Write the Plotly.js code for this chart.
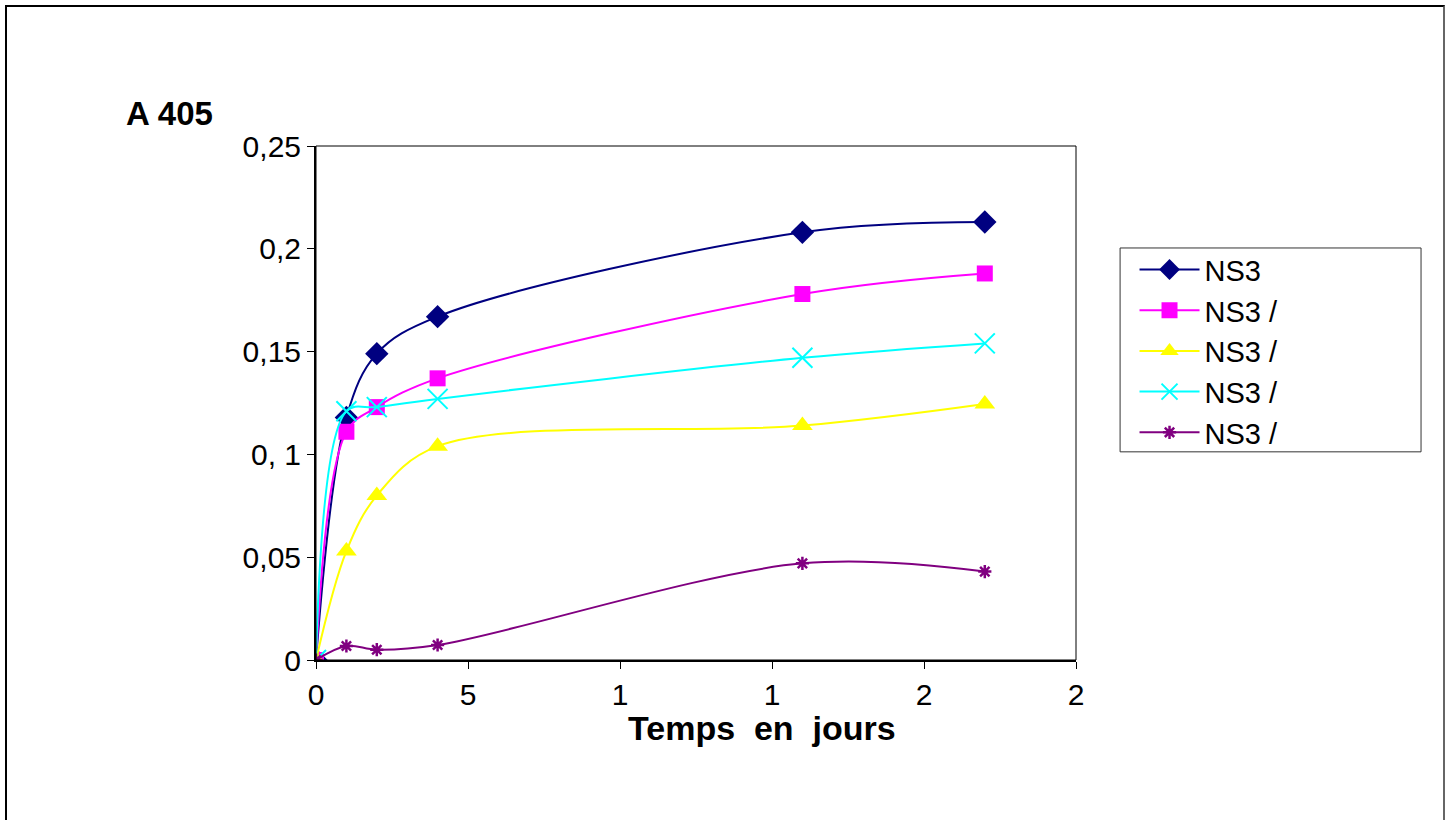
<!DOCTYPE html>
<html>
<head>
<meta charset="utf-8">
<script src="https://cdn.plot.ly/plotly-3.0.1.min.js"></script>
<style>
  html, body { margin: 0; padding: 0; background: #fff; }
  #wrap { position: relative; width: 1445px; height: 820px; overflow: hidden; }
  #chart { width: 1445px; height: 820px; }
  #frame { position: absolute; left: 5px; top: 5px; width: 1436px; height: 840px;
           border-left: 2px solid #000; border-top: 2px solid #000; border-right: 2px solid #666;
           pointer-events: none; }
</style>
</head>
<body>
<div id="wrap"><div id="chart"></div><div id="frame"></div></div>
<script>
// Data
const days = [0, 1, 2, 4, 16, 22];
const seriesNames = ["NS3", "NS3 /", "NS3 /", "NS3 /", "NS3 /"];
const ns3_a = [0, 0.118, 0.149, 0.167, 0.208, 0.213];
const ns3_b = [0, 0.111, 0.123, 0.137, 0.178, 0.188];
const ns3_c = [0, 0.053, 0.080, 0.104, 0.114, 0.1245];
const ns3_d = [0, 0.121, 0.123, 0.127, 0.147, 0.154];
const ns3_e = [0, 0.0068, 0.005, 0.0073, 0.047, 0.043];

const xTickVals = [0, 5, 10, 15, 20, 25];
const xTickText = ["0", "5", "1", "1", "2", "2"];
const yTickVals = [0, 0.05, 0.1, 0.15, 0.2, 0.25];
const yTickText = ["0", "0,05", "0, 1", "0,15", "0,2", "0,25"];

const styles = [
  {color: "#000080", symbol: "diamond", size: 18, lw: 0},
  {color: "#FF00FF", symbol: "square", size: 16, lw: 0},
  {color: "#FFFF00", symbol: "triangle-up", size: 18, lw: 0},
  {color: "#00FFFF", symbol: "x-thin-open", size: 20, lw: 2},
  {color: "#800080", symbol: "asterisk-open", size: 11, lw: 2.5}
];
const values = [ns3_a, ns3_b, ns3_c, ns3_d, ns3_e];

const traces = values.map((v, i) => ({
  x: days, y: v, name: seriesNames[i], legendgroup: "g" + i,
  type: "scatter", mode: "lines+markers",
  line: {color: styles[i].color, width: 2, shape: "spline", smoothing: 1},
  marker: {color: styles[i].color, symbol: styles[i].symbol, size: styles[i].size,
           line: {color: styles[i].color, width: styles[i].lw}}
}));

const font = "Liberation Sans, Arial, sans-serif";
const layout = {
  width: 1445, height: 820,
  margin: {l: 316, r: 369, t: 146, b: 160},
  paper_bgcolor: "#fff", plot_bgcolor: "#fff",
  showlegend: true,
  font: {family: font, color: "#000", size: 30},
  xaxis: {
    range: [0, 25], tickvals: xTickVals, ticktext: xTickText,
    showgrid: false, zeroline: false, showline: true, linecolor: "#000", linewidth: 2,
    ticks: "outside", ticklen: 7, tickcolor: "#000", tickwidth: 1,
    tickfont: {family: font, size: 30, color: "#000"}
  },
  yaxis: {
    range: [0, 0.25], tickvals: yTickVals, ticktext: yTickText,
    showgrid: false, zeroline: false, showline: true, linecolor: "#000", linewidth: 2,
    ticks: "outside", ticklen: 7, tickcolor: "#000", tickwidth: 1,
    tickfont: {family: font, size: 30, color: "#000"}
  },
  shapes: [
    {type: "rect", xref: "paper", yref: "paper", x0: 0, x1: 1, y0: 0, y1: 1,
     line: {color: "#000", width: 1}},
    {type: "rect", xref: "paper", yref: "paper", x0: 1.058, x1: 1.454, y0: 0.405, y1: 0.8016,
     line: {color: "#333", width: 1}}
  ],
  annotations: [
    {text: "<b>A 405</b>", xref: "paper", yref: "paper", x: -0.253, y: 1.064,
     xanchor: "left", yanchor: "middle", showarrow: false,
     font: {family: font, size: 33, color: "#000"}},
    {text: "<b>Temps\u00a0\u00a0en\u00a0\u00a0jours</b>", xref: "paper", yref: "paper", x: 0.587, y: -0.133,
     xanchor: "center", yanchor: "middle", showarrow: false,
     font: {family: font, size: 34, color: "#000"}}
  ],
  legend: {
    x: 1.077, y: 0.809, xanchor: "left", yanchor: "top",
    bgcolor: "rgba(0,0,0,0)", borderwidth: 0,
    font: {family: font, size: 29, color: "#000"},
    traceorder: "grouped", tracegroupgap: 0, itemwidth: 60
  }
};

Plotly.newPlot("chart", traces, layout, {displayModeBar: false, staticPlot: true});
</script>
</body>
</html>
